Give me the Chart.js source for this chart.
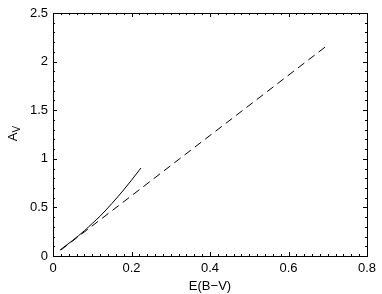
<!DOCTYPE html>
<html>
<head>
<meta charset="utf-8">
<script src="https://cdn.jsdelivr.net/npm/chart.js@4.4.1/dist/chart.umd.min.js"></script>
<style>
html,body{margin:0;padding:0;background:#fff;}
#wrap{width:382px;height:294px;position:relative;}
</style>
</head>
<body>
<div id="wrap"><canvas id="c" width="382" height="294"></canvas></div>
<script>
// Data
const solidX = [0.018, 0.05, 0.08, 0.10, 0.12, 0.15, 0.18, 0.20, 0.224];
const solidY = [0.062, 0.16, 0.26, 0.335, 0.41, 0.54, 0.68, 0.78, 0.905];
const dashedX = [0.02, 0.70];
const dashedY = [0.062, 2.17];
const xTickValues = [0, 0.2, 0.4, 0.6, 0.8];
const yTickValues = [0, 0.5, 1, 1.5, 2, 2.5];
const xTickLabels = ['0', '0.2', '0.4', '0.6', '0.8'];
const yTickLabels = ['0', '0.5', '1', '1.5', '2', '2.5'];
const xMinorStep = 0.02;
const yMinorStep = 0.1;
const xTitle = 'E(B\u2212V)';
const yTitleMain = 'A';
const yTitleSub = 'V';

const FONT = '"Liberation Sans", Arial, Helvetica, sans-serif';

const toPts = (xs, ys) => xs.map((x, i) => ({x: x, y: ys[i]}));

const boxPlugin = {
  id: 'boxTicks',
  afterDraw(chart) {
    const ctx = chart.ctx;
    const a = chart.chartArea;
    const xs = chart.scales.x, ys = chart.scales.y;
    ctx.save();
    ctx.strokeStyle = '#000';
    ctx.lineWidth = 1;
    ctx.strokeRect(Math.round(a.left) + 0.5, Math.round(a.top) + 0.5,
      Math.round(a.right - a.left), Math.round(a.bottom - a.top));
    ctx.beginPath();
    const nx = Math.round((xs.max - xs.min) / xMinorStep);
    for (let i = 0; i <= nx; i++) {
      const v = xs.min + i * xMinorStep;
      const isMajor = xTickValues.some(t => Math.abs(t - v) < 1e-9);
      const len = isMajor ? 4 : 2;
      const px = Math.round(xs.getPixelForValue(v)) + 0.5;
      ctx.moveTo(px, a.bottom); ctx.lineTo(px, a.bottom - len);
      ctx.moveTo(px, a.top); ctx.lineTo(px, a.top + len);
    }
    const ny = Math.round((ys.max - ys.min) / yMinorStep);
    for (let i = 0; i <= ny; i++) {
      const v = ys.min + i * yMinorStep;
      const isMajor = yTickValues.some(t => Math.abs(t - v) < 1e-9);
      const len = isMajor ? 4 : 2;
      const py = Math.round(ys.getPixelForValue(v)) + 0.5;
      ctx.moveTo(a.left, py); ctx.lineTo(a.left + len, py);
      ctx.moveTo(a.right, py); ctx.lineTo(a.right - len, py);
    }
    ctx.stroke();
    // y title with subscript
    ctx.fillStyle = '#000';
    ctx.translate(17, (a.top + a.bottom) / 2 - 1);
    ctx.rotate(-Math.PI / 2);
    ctx.textBaseline = 'alphabetic';
    ctx.textAlign = 'left';
    ctx.font = '13px ' + FONT;
    const w = ctx.measureText(yTitleMain).width;
    ctx.font = '10px ' + FONT;
    const wsub = ctx.measureText(yTitleSub).width;
    const total = w + wsub;
    ctx.font = '13px ' + FONT;
    ctx.fillText(yTitleMain, -total / 2, 0);
    ctx.font = '10px ' + FONT;
    ctx.fillText(yTitleSub, -total / 2 + w, 3);
    ctx.restore();
  }
};

new Chart(document.getElementById('c'), {
  type: 'scatter',
  data: {
    datasets: [
      {
        data: toPts(solidX, solidY),
        showLine: true,
        borderColor: '#000',
        borderWidth: 1,
        pointRadius: 0,
        cubicInterpolationMode: 'monotone',
        fill: false
      },
      {
        data: toPts(dashedX, dashedY),
        showLine: true,
        borderColor: '#000',
        borderWidth: 1,
        borderDash: [8, 5],
        pointRadius: 0,
        fill: false
      }
    ]
  },
  options: {
    responsive: false,
    animation: false,
    devicePixelRatio: 1,
    layout: {padding: {top: 13, right: 15, left: 0, bottom: 0}},
    plugins: {legend: {display: false}, tooltip: {enabled: false}},
    scales: {
      x: {
        type: 'linear', min: 0, max: 0.8,
        afterBuildTicks: s => { s.ticks = xTickValues.map(v => ({value: v})); },
        grid: {display: false, drawTicks: false},
        border: {display: false},
        ticks: {color: '#000', font: {family: FONT, size: 13}, padding: 5,
          callback: (v, i) => xTickLabels[i]},
        title: {display: true, text: xTitle, color: '#000', font: {family: FONT, size: 13}, padding: {top: 0, bottom: 0}},
        afterFit: s => { s.height = 38; }
      },
      y: {
        type: 'linear', min: 0, max: 2.5,
        afterBuildTicks: s => { s.ticks = yTickValues.map(v => ({value: v})); },
        grid: {display: false, drawTicks: false},
        border: {display: false},
        ticks: {color: '#000', font: {family: FONT, size: 13}, padding: 5,
          callback: (v, i) => yTickLabels[i]},
        afterFit: s => { s.width = 53; }
      }
    }
  },
  plugins: [boxPlugin]
});
</script>
</body>
</html>
